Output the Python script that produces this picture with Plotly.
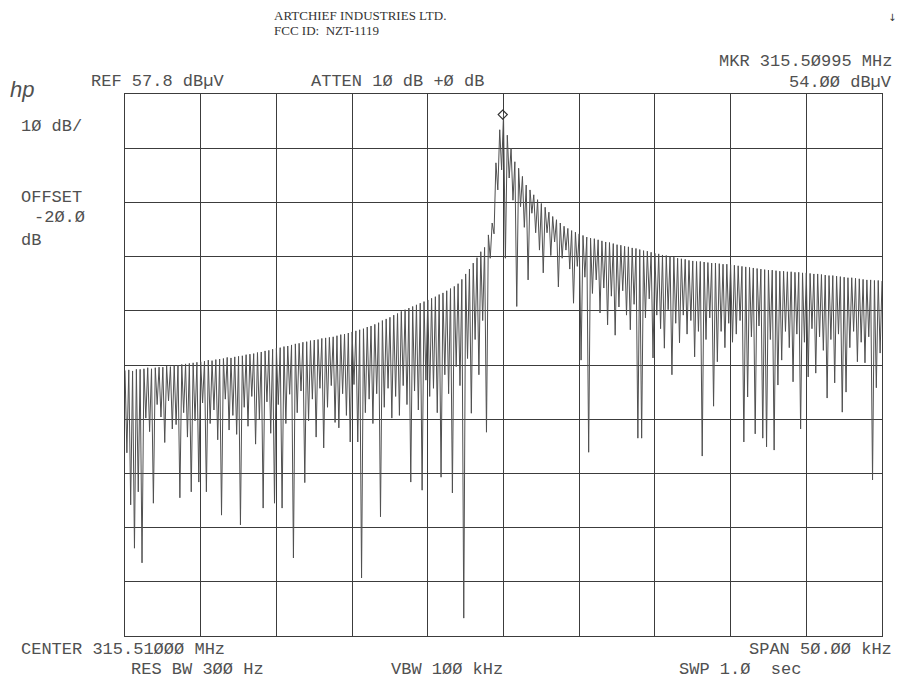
import plotly.graph_objects as go

# analyzer settings (from the screen annotations)
center_mhz = 315.51
span_mhz = 0.05
ref_level = 57.8
db_per_div = 10
n_points = 401

# trace: upper points of each comb tooth (dBuV)
peak_db = [
    6.8, 6.9, 6.7, 7.0, 7.0, 7.1, 7.3, 7.1, 7.3, 7.4,
    7.4, 7.6, 7.5, 7.7, 7.8, 7.9, 8.0, 8.1, 8.2, 8.3,
    8.4, 8.5, 8.7, 8.6, 8.8, 8.9, 9.0, 9.2, 9.1, 9.3,
    9.4, 9.5, 9.7, 9.8, 9.9, 10.1, 10.2, 10.4, 10.5, 10.7,
    10.9, 11.0, 11.2, 11.3, 11.5, 11.7, 11.8, 12.0, 12.1, 12.3,
    12.4, 12.5, 12.7, 12.8, 12.9, 13.0, 13.2, 13.4, 13.5, 13.7,
    13.9, 14.1, 14.3, 14.5, 14.8, 15.0, 15.3, 15.6, 16.0, 16.3,
    16.6, 17.0, 17.3, 17.7, 18.0, 18.3, 18.6, 18.9, 19.2, 19.5,
    19.8, 20.1, 20.4, 20.8, 21.1, 21.5, 21.9, 22.3, 22.8, 23.6,
    24.6, 25.5, 26.6, 27.6, 28.7, 29.5, 31.8, 34.0, 45.1, 51.2,
    54.0, 50.2, 47.8, 45.3, 44.1, 42.6, 41.0, 40.1, 39.2, 38.3,
    37.6, 36.9, 36.0, 35.2, 34.6, 34.0, 33.4, 33.0, 32.6, 32.3,
    32.0, 31.7, 31.4, 31.2, 31.1, 30.9, 30.7, 30.5, 30.4, 30.2,
    30.0, 29.9, 29.7, 29.6, 29.4, 29.3, 29.1, 28.9, 28.8, 28.6,
    28.4, 28.3, 28.1, 28.0, 27.8, 27.7, 27.5, 27.4, 27.3, 27.1,
    27.0, 26.9, 26.9, 26.8, 26.7, 26.6, 26.6, 26.5, 26.4, 26.4,
    26.3, 26.2, 26.1, 26.0, 25.9, 25.8, 25.7, 25.6, 25.5, 25.4,
    25.3, 25.3, 25.2, 25.1, 25.1, 25.0, 25.0, 24.9, 24.9, 24.8,
    24.8, 24.7, 24.6, 24.6, 24.5, 24.4, 24.3, 24.3, 24.2, 24.1,
    24.0, 23.9, 23.9, 23.8, 23.7, 23.6, 23.5, 23.5, 23.4, 23.4,
    23.3,
]

# lower points between the teeth (dBuV)
dip_db = [
    -8.4, -18.0, -26.0, -15.6, -28.7, -2.0, -4.5, -17.7, 0.5, -1.8,
    -6.5, 1.2, -4.0, -3.2, -16.7, -1.0, -5.5, -15.6, -2.5, -13.8,
    0.8, -15.6, -3.0, -0.5, -6.0, -19.9, 1.5, -4.2, -1.5, -5.0,
    -21.7, 0.0, -3.5, 2.0, -6.8, -2.2, -18.6, 1.0, -4.8, -17.7,
    0.5, -18.6, -3.0, 2.4, -27.8, -1.0, 3.0, -13.9, -2.5, 1.5,
    -5.5, 3.5, -7.5, 0.0, 4.0, -2.8, -3.8, 2.5, -1.5, -6.4,
    4.2, -6.4, -31.5, -1.0, 1.5, -3.0, 2.5, -20.2, 0.0, 3.5,
    -2.0, 2.0, -1.5, 4.0, 0.5, -13.8, 3.0, -0.5, -15.3, 5.0,
    2.0, 3.5, -1.0, -12.9, 6.0, 2.5, -15.8, 7.5, 4.0, -38.9,
    9.0, -1.1, 12.5, 6.0, 16.0, -4.6, 27.5, 32.0, 40.1, 43.8,
    27.5, 42.3, 38.2, 18.6, 37.0, 33.2, 23.5, 35.8, 32.2, 29.0,
    24.8, 32.2, 28.0, 30.5, 22.2, 27.5, 29.0, 25.5, 19.2, 26.0,
    8.7, 24.0, -8.3, 21.0, 23.5, 17.4, 22.0, 15.2, 20.5, 13.3,
    18.5, 21.5, 17.0, 14.3, 19.0, -5.7, -5.7, 16.5, 20.0, 9.1,
    17.0, 14.5, 10.9, 18.0, 6.0, 15.5, 11.9, 17.0, 13.5, 16.0,
    9.3, 14.0, -9.0, 12.5, 16.5, 0.2, 8.4, 14.0, 11.0, 15.5,
    12.0, 13.5, 16.0, -6.4, 1.9, 13.0, -4.9, 15.0, -5.7, -7.3,
    12.5, -7.9, 4.1, 8.7, 14.0, 11.0, 4.7, 13.5, -4.0, 12.0,
    5.6, 14.5, 6.3, 13.0, 10.5, 1.7, 12.5, 4.5, 13.5, -0.9,
    2.8, 11.0, 14.0, 8.4, 12.0, 8.2, 13.0, -13.4, 3.6, 10.0,
]

mkr_freq = [315.50995]
mkr_level = [54.0]

# sweep points alternate tooth top / tooth bottom
level = []
for k in range(len(dip_db)):
    level.append(peak_db[k])
    level.append(dip_db[k])
level.append(peak_db[-1])

f_start = center_mhz - span_mhz / 2
f_stop = center_mhz + span_mhz / 2
freq = [f_start + span_mhz * i / (n_points - 1) for i in range(n_points)]

ink = "#505050"
grid = "#3c3c3c"

fig = go.Figure()
fig.add_trace(go.Scatter(x=freq, y=level, mode="lines",
                         line=dict(color=ink, width=1), hoverinfo="skip"))
fig.add_trace(go.Scatter(x=mkr_freq, y=mkr_level, mode="markers",
                         marker=dict(symbol="diamond-open", size=7,
                                     color="#333333", line=dict(width=1.2))))

# plot box in page pixels (the page body adds an 8px margin)
PAGE_PAD = 8
W, H = 910 - 2 * PAGE_PAD, 700 - 2 * PAGE_PAD
L, R, T, B = 125, 882, 94, 636


def px(x):
    return (x - L) / (R - L)


def py(y):
    return (B - y) / (B - T)


hp_font = dict(family="Liberation Mono", size=17, color=ink)
labels = [
    ("REF 57.8 dBµV", 89, 81, "left"),
    ("ATTEN 1Ø dB +Ø dB", 309, 81, "left"),
    ("MKR 315.5Ø995 MHz", 894, 61, "right"),
    ("54.ØØ dBµV", 894, 82, "right"),
    ("1Ø dB/", 19, 127, "left"),
    ("OFFSET", 19, 197, "left"),
    ("-2Ø.Ø", 32, 217, "left"),
    ("dB", 19, 240, "left"),
    ("CENTER 315.51ØØØ MHz", 19, 649, "left"),
    ("SPAN 5Ø.ØØ kHz", 894, 649, "right"),
    ("RES BW 3ØØ Hz", 129, 669, "left"),
    ("VBW 1ØØ kHz", 389, 669, "left"),
    ("SWP 1.Ø  sec", 677, 669, "left"),
]
annotations = []
for text, x, y, anchor in labels:
    annotations.append(dict(text=text, x=px(x), y=py(y), xref="paper", yref="paper",
                            xanchor=anchor, yanchor="middle", showarrow=False,
                            font=hp_font))

head_font = dict(family="Liberation Serif", size=13, color="#333333")
annotations += [
    dict(text="ARTCHIEF INDUSTRIES LTD.", x=px(272), y=py(16), xref="paper", yref="paper",
         xanchor="left", yanchor="middle", showarrow=False, font=head_font),
    dict(text="FCC ID:  NZT-1119", x=px(272), y=py(31), xref="paper", yref="paper",
         xanchor="left", yanchor="middle", showarrow=False, font=head_font),
    dict(text="↓", x=px(892), y=py(17), xref="paper", yref="paper",
         xanchor="center", yanchor="middle", showarrow=False,
         font=dict(family="DejaVu Sans", size=10, color="#333333")),
    dict(text="<i>hp</i>", x=px(22), y=py(89), xref="paper", yref="paper",
         xanchor="center", yanchor="middle", showarrow=False,
         font=dict(family="Liberation Sans", size=22, color=ink)),
]

fig.update_layout(
    width=W, height=H,
    margin=dict(l=L - PAGE_PAD, r=W - (R - PAGE_PAD), t=T - PAGE_PAD, b=H - (B - PAGE_PAD)),
    paper_bgcolor="white", plot_bgcolor="white",
    showlegend=False,
    annotations=annotations,
    xaxis=dict(range=[f_start, f_stop], tick0=f_start, dtick=span_mhz / 10,
               showgrid=True, gridcolor=grid, gridwidth=1, zeroline=False,
               showticklabels=False, ticks="",
               showline=True, mirror=True, linecolor=grid, linewidth=1),
    yaxis=dict(range=[ref_level - 10 * db_per_div, ref_level], tick0=ref_level,
               dtick=db_per_div, showgrid=True, gridcolor=grid, gridwidth=1,
               zeroline=False, showticklabels=False, ticks="",
               showline=True, mirror=True, linecolor=grid, linewidth=1),
)

fig.write_html("out.html")
